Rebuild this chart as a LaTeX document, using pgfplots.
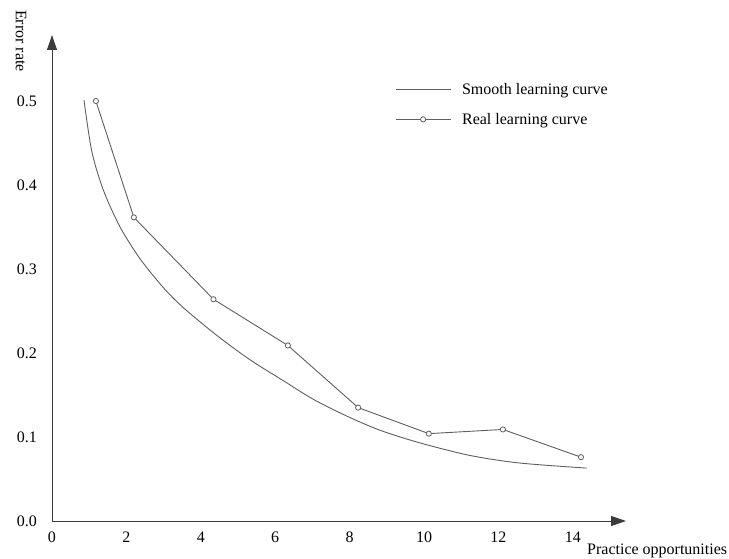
\documentclass[border=0pt]{standalone}
\usepackage{fontspec}
\setmainfont{Liberation Serif}
\usepackage{pgfplots}
\pgfplotsset{compat=1.18}
\usetikzlibrary{arrows.meta}
\definecolor{curvegray}{RGB}{95,95,95}
\definecolor{axisgray}{RGB}{60,60,60}
\begin{document}
\begin{tikzpicture}
\begin{axis}[
  scale only axis,
  width=574pt, height=486pt,
  xmin=0, xmax=15.43, ymin=0, ymax=0.5786,
  axis lines=left,
  every outer x axis line/.append style={axisgray, line width=0.9pt, -{Triangle[length=15pt,width=10pt]}},
  every outer y axis line/.append style={axisgray, line width=0.9pt, -{Triangle[length=15pt,width=10pt]}},
  clip=false,
  font=\fontsize{16}{19}\selectfont,
  /pgf/number format/assume math mode=true,
  xtick={0,2,4,6,8,10,12,14},
  ytick={0,0.1,0.2,0.3,0.4,0.5},
  yticklabel style={/pgf/number format/fixed, /pgf/number format/fixed zerofill, /pgf/number format/precision=1, anchor=east, inner sep=0pt, xshift=-15pt},
  xticklabel style={anchor=north, inner sep=0pt, yshift=-11pt},
  major tick length=0pt,
  tick style={draw=none},
  xlabel={Practice opportunities},
  ylabel={Error rate},
  every axis x label/.style={at={(axis description cs:1,0)}, anchor=base west, inner sep=0pt, xshift=-39pt, yshift=-33pt},
  every axis y label/.style={at={(axis description cs:-0.0540,0.9877)}, rotate=-90, anchor=center, inner sep=0pt},
  legend style={draw=none, fill=none, at={(axis description cs:0.5923,0.905)}, anchor=north west,
    nodes={inner sep=0pt, anchor=base west}, row sep=17pt, column sep=11pt, font=\fontsize{16}{19}\selectfont},
  legend cell align=left,
  legend image code/.code={\draw[mark repeat=2,mark phase=2,#1] plot coordinates {(0pt,0.47em) (27.5pt,0.47em) (55pt,0.47em)};},
]
\coordinate (O) at (rel axis cs:0,0);
\addplot[curvegray, line width=0.9pt, smooth] coordinates {
(0.86,0.501) (1.07,0.440) (1.38,0.394) (1.83,0.350) (2.37,0.312) (2.99,0.278)
(3.53,0.254) (4.43,0.221) (5.32,0.192) (6.22,0.167) (7.02,0.145) (7.92,0.125)
(8.82,0.108) (9.89,0.093) (11.24,0.078) (12.58,0.069) (14.37,0.063)};
\addlegendentry{Smooth learning curve}
\addplot[curvegray, line width=0.9pt, mark=*, mark size=2.6pt, mark options={fill=white, draw=curvegray, line width=0.8pt}] coordinates {
(1.18,0.500) (2.20,0.3615) (4.34,0.264) (6.34,0.209) (8.23,0.135) (10.13,0.104) (12.12,0.109) (14.22,0.076)};
\addlegendentry{Real learning curve}
\end{axis}
\path (O) ++(-52pt,-37pt) rectangle ++(729pt,558pt);
\end{tikzpicture}
\end{document}
